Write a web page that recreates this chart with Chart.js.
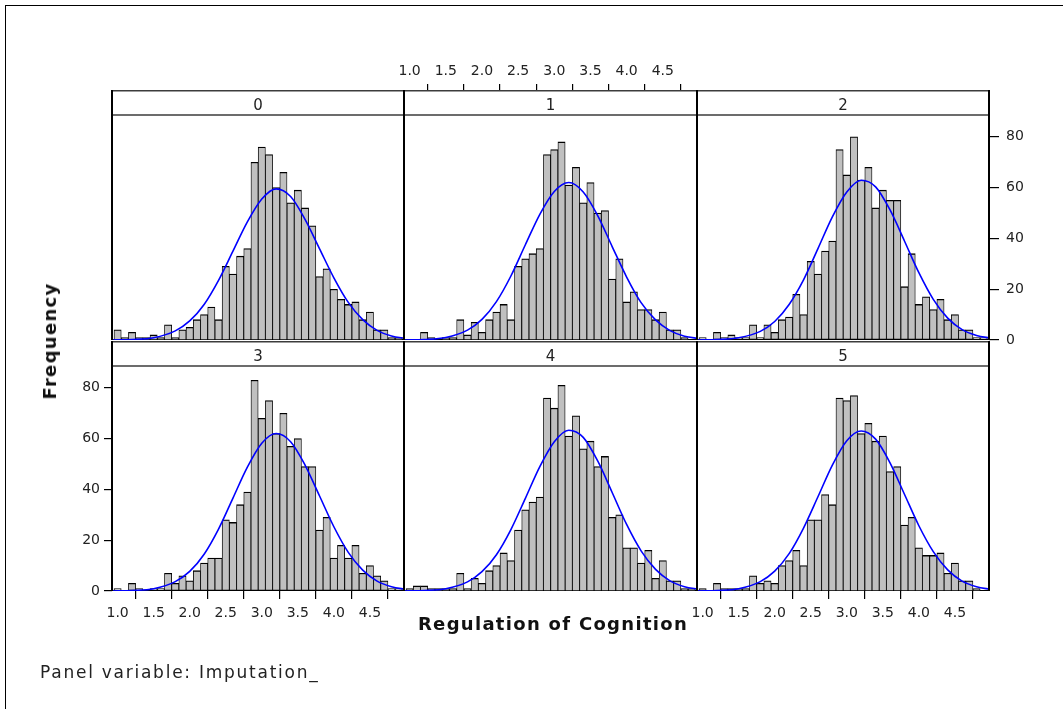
<!DOCTYPE html>
<html>
<head>
<meta charset="utf-8">
<script src="https://cdn.jsdelivr.net/npm/chart.js@4.4.1/dist/chart.umd.min.js"></script>
<style>
    html, body { margin: 0; padding: 0; background: #fff; }
    #wrap { position: relative; width: 1063px; height: 709px; overflow: hidden; font-family: 'DejaVu Sans', sans-serif; color: #222; }
    #wrap canvas { position: absolute; left: 0; top: 0; }
    .txt { position: absolute; white-space: nowrap; }
    .strip { position: absolute; text-align: center; font-size: 15px; line-height: 15px; }
    #frame { position: absolute; left: 5px; top: 5px; width: 1200px; height: 800px; border-left: 1px solid #000; border-top: 1px solid #000; }
</style>
</head>
<body>
<div id="wrap">
    <div id="frame"></div>
</div>
<script>
// Середины интервалов гистограммы (ширина 0.1)
const binMid = [1.0, 1.1, 1.2, 1.3, 1.4, 1.5, 1.6, 1.7, 1.8, 1.9,
                2.0, 2.1, 2.2, 2.3, 2.4, 2.5, 2.6, 2.7, 2.8, 2.9,
                3.0, 3.1, 3.2, 3.3, 3.4, 3.5, 3.6, 3.7, 3.8, 3.9,
                4.0, 4.1, 4.2, 4.3, 4.4, 4.5, 4.6, 4.7, 4.8, 4.9, 5.0];

// Частоты по панелям (Imputation_ = 0..5)
const freq0 = [4, 1, 3, 1, 1, 2, 1, 6, 1, 4, 5, 8, 10, 13, 8, 29, 26, 33, 36, 70, 76, 73, 60, 66, 54, 59, 52, 45, 25, 28, 20, 16, 14, 15, 8, 11, 4, 4, 1, 1, 0];
const freq1 = [0, 0, 3, 1, 0, 1, 1, 8, 2, 7, 3, 8, 11, 14, 8, 29, 32, 34, 36, 73, 75, 78, 61, 68, 54, 62, 50, 51, 24, 32, 15, 19, 12, 12, 8, 11, 4, 4, 1, 0, 0];
const freq2 = [1, 0, 3, 1, 2, 1, 1, 6, 1, 6, 3, 8, 9, 18, 10, 31, 26, 35, 39, 75, 65, 80, 63, 68, 52, 59, 55, 55, 21, 34, 14, 17, 12, 16, 8, 10, 4, 4, 1, 1, 0];
const freq3 = [1, 0, 3, 1, 0, 1, 1, 7, 3, 6, 4, 8, 11, 13, 13, 28, 27, 34, 39, 83, 68, 75, 62, 70, 57, 60, 49, 49, 24, 29, 13, 18, 13, 18, 7, 10, 6, 4, 1, 1, 0];
const freq4 = [1, 2, 2, 1, 1, 1, 1, 7, 1, 5, 3, 8, 10, 15, 12, 24, 32, 35, 37, 76, 72, 81, 61, 69, 56, 59, 49, 53, 29, 30, 17, 17, 11, 16, 5, 12, 4, 4, 1, 1, 0];
const freq5 = [1, 0, 3, 1, 1, 1, 1, 6, 3, 4, 3, 10, 12, 16, 10, 28, 28, 38, 34, 76, 75, 77, 62, 66, 59, 61, 47, 49, 26, 29, 17, 14, 14, 15, 7, 11, 4, 4, 1, 0, 0];

// Нормальная кривая
const curveX = [0.93, 1.2, 1.5, 1.8, 2.0, 2.2, 2.4, 2.6, 2.8, 3.0, 3.2, 3.4, 3.6, 3.8, 4.0, 4.2, 4.4, 4.6, 4.8, 5.0];
const curve0 = [0, 0.2, 0.9, 3.6, 7.5, 14.0, 23.5, 35.0, 46.5, 55.5, 59.5, 56.5, 47.5, 36.0, 24.5, 14.8, 8.0, 3.8, 1.6, 0.6];
const curve1 = [0, 0.2, 1.0, 3.9, 8.1, 15.1, 25.2, 37.5, 49.5, 58.5, 62.0, 58.3, 49.0, 36.8, 24.8, 14.7, 7.9, 3.7, 1.5, 0.6];
const curve2 = [0, 0.2, 0.9, 3.4, 7.3, 14.0, 23.7, 36.0, 48.5, 58.3, 62.9, 60.3, 51.2, 39.0, 26.5, 16.0, 8.6, 4.1, 1.8, 0.7];
const curve3 = [0, 0.2, 0.9, 3.7, 7.7, 14.5, 24.4, 36.6, 48.8, 58.2, 62.0, 58.8, 49.6, 37.5, 25.3, 15.2, 8.2, 3.9, 1.7, 0.6];
const curve4 = [0, 0.2, 0.9, 3.6, 7.6, 14.3, 24.2, 36.5, 49.0, 58.8, 63.3, 60.5, 51.2, 38.8, 26.2, 15.8, 8.5, 4.0, 1.7, 0.7];
const curve5 = [0, 0.2, 0.9, 3.7, 7.8, 14.7, 24.8, 37.1, 49.6, 59.2, 63.0, 59.8, 50.5, 38.1, 25.7, 15.5, 8.3, 3.9, 1.7, 0.6];

// Подписи
const panelLabels = ['0', '1', '2', '3', '4', '5'];
const xTickValues = [1.0, 1.5, 2.0, 2.5, 3.0, 3.5, 4.0, 4.5];
const yTickValues = [0, 20, 40, 60, 80];
const xTitle = 'Regulation of Cognition';
const yTitle = 'Frequency';
const footNote = 'Panel variable: Imputation_';

const freqs = [freq0, freq1, freq2, freq3, freq4, freq5];
const curves = [curve0, curve1, curve2, curve3, curve4, curve5];

// Геометрия панелей
const W = 1063, H = 709;
const colLeft = [112, 404, 697];
const colRight = [404, 697, 989];
const rowTop = [115, 366];
const rowBottom = [340, 591];
const STRIP_H = 25;
const X_MIN = 0.922, X_MAX = 4.973, Y_MAX = 88.6;
const FONT = "'DejaVu Sans', sans-serif";

// Какие оси показывать у какой панели
const axesOf = [
    {},
    { top: true },
    { right: true },
    { left: true, bottom: true },
    {},
    { bottom: true }
];

// Рамка панели и полоса с номером
const panelFrame = {
    id: 'panelFrame',
    beforeDatasetsDraw(chart) {
        const a = chart.chartArea, ctx = chart.ctx;
        ctx.save();
        ctx.strokeStyle = '#000';
        ctx.lineWidth = 1;
        ctx.beginPath();
        ctx.moveTo(a.left, a.bottom - 0.5);
        ctx.lineTo(a.right, a.bottom - 0.5);
        ctx.stroke();
        ctx.restore();
    },
    afterDraw(chart) {
        const a = chart.chartArea, ctx = chart.ctx;
        const top = a.top - STRIP_H;
        ctx.save();
        // белая полоса закрывает нижнюю часть длинных верхних засечек
        ctx.fillStyle = '#fff';
        ctx.fillRect(a.left, top, a.right - a.left, STRIP_H);
        ctx.strokeStyle = '#3c3c3c';
        ctx.lineWidth = 1.5;
        ctx.beginPath();
        ctx.moveTo(a.left, top + 0.75);
        ctx.lineTo(a.right, top + 0.75);
        ctx.moveTo(a.left, a.top);
        ctx.lineTo(a.right, a.top);
        ctx.stroke();
        ctx.strokeStyle = '#000';
        ctx.lineWidth = 2;
        ctx.beginPath();
        ctx.moveTo(a.left, top);
        ctx.lineTo(a.left, a.bottom);
        ctx.moveTo(a.right, top);
        ctx.lineTo(a.right, a.bottom);
        ctx.stroke();
        ctx.restore();
    }
};

const wrap = document.getElementById('wrap');

function makePanel(p) {
    const row = Math.floor(p / 3), col = p % 3;
    const ax = axesOf[p];
    const AXW = 40, AXH_TOP = 56, AXH_BOT = 40;
    const showX = !!(ax.top || ax.bottom);
    const showY = !!(ax.left || ax.right);

    const canvas = document.createElement('canvas');
    canvas.width = W;
    canvas.height = H;
    wrap.appendChild(canvas);

    const tickFont = { family: FONT, size: 14 };

    new Chart(canvas, {
        type: 'bar',
        data: {
            datasets: [
                {
                    type: 'line',
                    data: curveX.map((x, i) => ({ x: x, y: curves[p][i] })),
                    borderColor: '#0000ff',
                    borderWidth: 1.6,
                    pointRadius: 0,
                    cubicInterpolationMode: 'monotone',
                    order: 0
                },
                {
                    type: 'bar',
                    data: binMid.map((x, i) => ({ x: x, y: freqs[p][i] })),
                    backgroundColor: '#c0c0c0',
                    borderColor: '#000',
                    borderWidth: { top: 1.3, right: 0.85, bottom: 1, left: 0.85 },
                    borderSkipped: false,
                    barPercentage: 1,
                    categoryPercentage: 1,
                    order: 1
                }
            ]
        },
        options: {
            responsive: false,
            animation: false,
            events: [],
            layout: {
                padding: {
                    left: colLeft[col] - (ax.left ? AXW : 0),
                    right: W - colRight[col] - (ax.right ? AXW : 0),
                    top: rowTop[row] - (ax.top ? AXH_TOP : 0),
                    bottom: H - rowBottom[row] - (ax.bottom ? AXH_BOT : 0)
                }
            },
            scales: {
                x: {
                    type: 'linear',
                    min: X_MIN,
                    max: X_MAX,
                    offset: false,
                    display: showX,
                    position: ax.top ? 'top' : 'bottom',
                    border: { display: false },
                    grid: {
                        drawOnChartArea: false,
                        drawTicks: true,
                        tickLength: ax.top ? 31 : 8,
                        color: '#000',
                        lineWidth: 1.2
                    },
                    ticks: {
                        font: tickFont,
                        color: '#222',
                        padding: ax.top ? 4 : 6,
                        maxRotation: 0,
                        autoSkip: false,
                        includeBounds: false,
                        callback: v => Number(v).toFixed(1)
                    },
                    afterBuildTicks: s => { s.ticks = xTickValues.map(v => ({ value: v })); },
                    afterFit: s => { if (showX) s.height = ax.top ? AXH_TOP : AXH_BOT; }
                },
                y: {
                    min: 0,
                    max: Y_MAX,
                    display: showY,
                    position: ax.right ? 'right' : 'left',
                    border: { display: false },
                    grid: {
                        drawOnChartArea: false,
                        drawTicks: true,
                        tickLength: ax.right ? 10 : 8,
                        color: '#000',
                        lineWidth: 1.2
                    },
                    ticks: {
                        font: tickFont,
                        color: '#222',
                        padding: ax.right ? 7 : 4,
                        includeBounds: false
                    },
                    afterBuildTicks: s => { s.ticks = yTickValues.map(v => ({ value: v })); },
                    afterFit: s => { if (showY) s.width = AXW; }
                }
            },
            plugins: {
                legend: { display: false },
                tooltip: { enabled: false },
                title: { display: false }
            }
        },
        plugins: [panelFrame]
    });
}

function addText(text, style) {
    const el = document.createElement('div');
    el.className = 'txt';
    el.textContent = text;
    Object.assign(el.style, style);
    wrap.appendChild(el);
    return el;
}

document.addEventListener('DOMContentLoaded', () => {
    for (let p = 0; p < 6; p++) makePanel(p);

    // Номера панелей в полосах
    panelLabels.forEach((lbl, p) => {
        const row = Math.floor(p / 3), col = p % 3;
        const el = addText(lbl, {});
        el.className = 'strip';
        el.style.left = colLeft[col] + 'px';
        el.style.width = (colRight[col] - colLeft[col]) + 'px';
        el.style.top = (rowTop[row] - STRIP_H + 8) + 'px';
    });

    // Заголовки осей и подпись
    addText(xTitle, {
        left: '553px', top: '615px', transform: 'translateX(-50%)',
        fontSize: '18px', lineHeight: '18px', fontWeight: 'bold', letterSpacing: '1.3px', color: '#111'
    });
    addText(yTitle, {
        left: '50px', top: '341px', transform: 'translate(-50%, -50%) rotate(-90deg)',
        fontSize: '18px', lineHeight: '18px', fontWeight: 'bold', letterSpacing: '1.3px', color: '#111'
    });
    addText(footNote, {
        left: '40px', top: '664px',
        fontSize: '17px', lineHeight: '17px', letterSpacing: '1.75px', color: '#222'
    });
});
</script>
</body>
</html>
